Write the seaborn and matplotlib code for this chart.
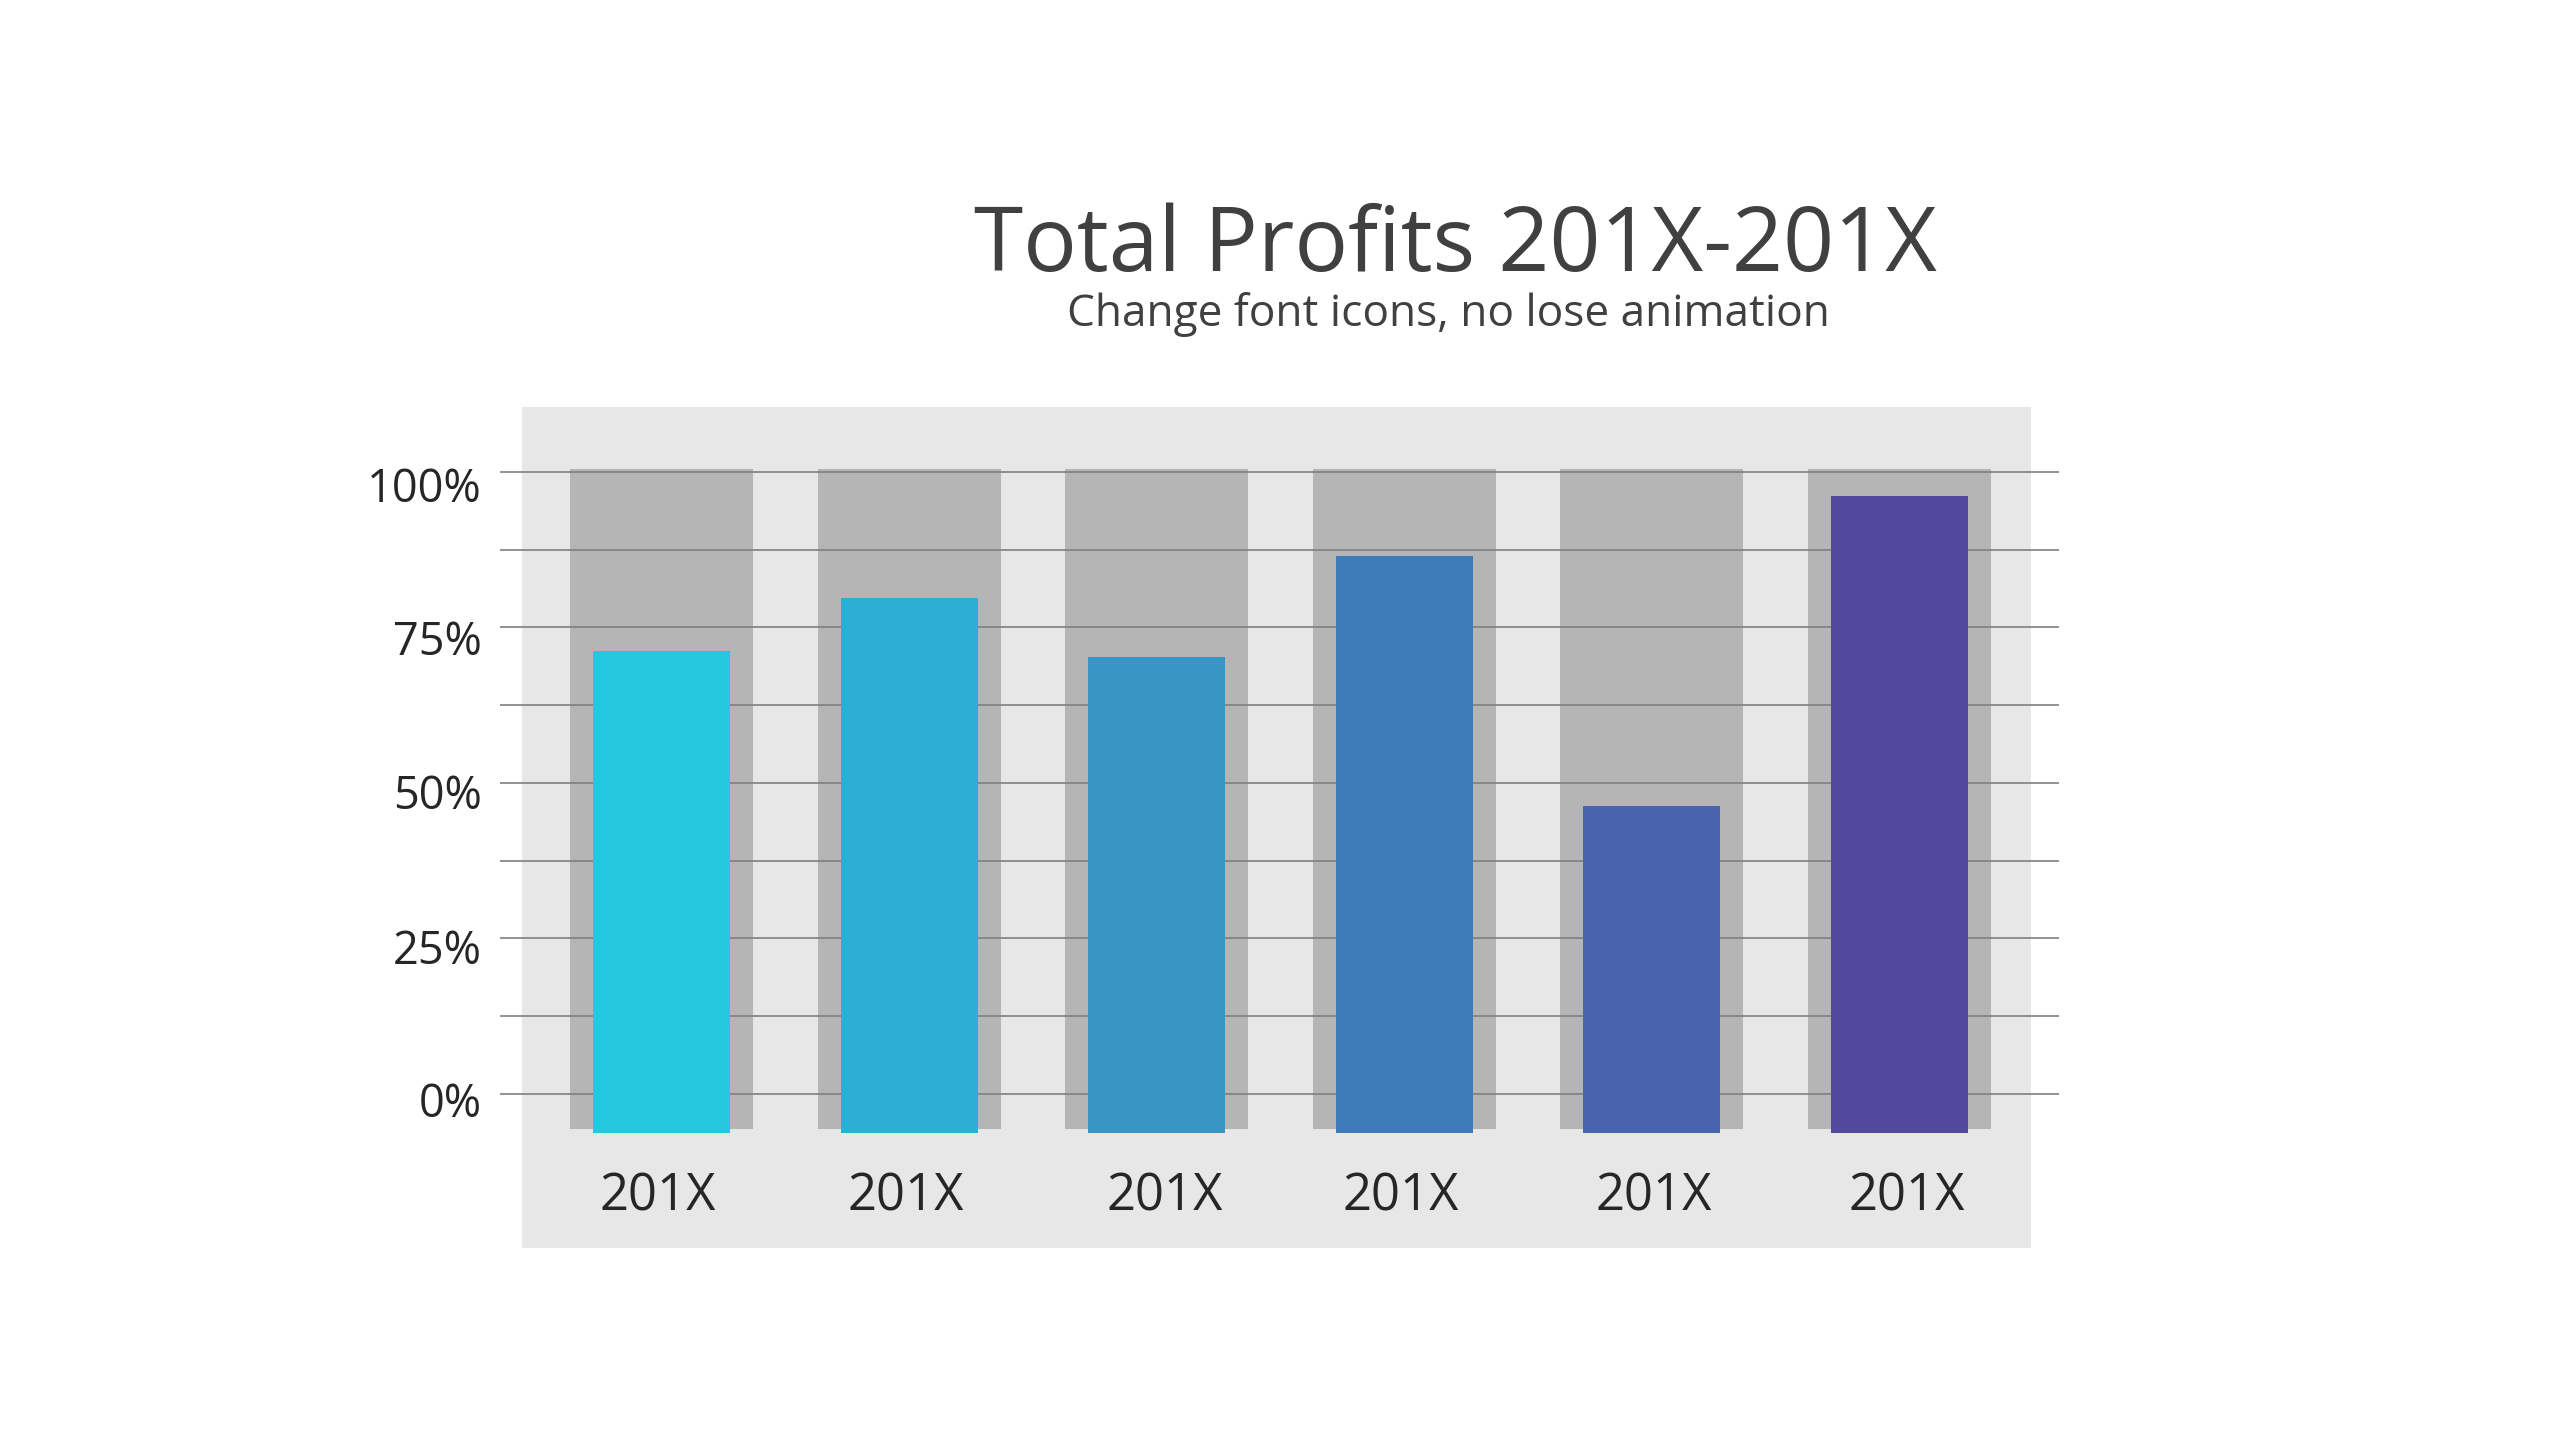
import matplotlib
matplotlib.use("Agg")
import matplotlib.pyplot as plt
import matplotlib.transforms as mtrans
import pandas as pd
import seaborn as sns

# =========================
# DATA
# =========================
slots = [0, 1, 2, 3, 4, 5]
year_labels = ["201X", "201X", "201X", "201X", "201X", "201X"]
profits = [71.3, 79.7, 70.2, 86.5, 46.3, 96.1]
full_scale = [100.5, 100.5, 100.5, 100.5, 100.5, 100.5]
y_ticks = [0, 25, 50, 75, 100]
y_tick_labels = ["0%", "25%", "50%", "75%", "100%"]
grid_levels = [0, 12.5, 25, 37.5, 50, 62.5, 75, 87.5, 100]

bar_colors = ["#25C7DE", "#2DAED3", "#3996C4", "#3F7AB8", "#4763AD", "#52489C"]

# label nudges in pixels, the labels in the slide sit a bit off the ticks
x_nudge = [-4, -3, 8, -4, 2, 7]
y_nudge = [-6, -8, -9, -10, -13]

BASE_BACK = -5.6
BASE_FRONT = -6.3
FONT = "Open Sans"

# =========================
# FIGURE
# =========================
sns.set_theme(style="white")
plt.rcParams["font.family"] = [FONT, "DejaVu Sans"]

fig = plt.figure(figsize=(25.6, 14.4), dpi=100, facecolor="white")
ax = fig.add_axes([522 / 2560, 192 / 1440, 1509 / 2560, 841 / 1440])
ax.set_facecolor("#E7E7E7")

df = pd.DataFrame({"slot": slots, "profit": profits, "full": full_scale})
df["back_h"] = df["full"] - BASE_BACK
df["front_h"] = df["profit"] - BASE_FRONT

# grey background bars
sns.barplot(data=df, x="slot", y="back_h", color="#B5B5B5", width=0.739,
            bottom=BASE_BACK, saturation=1, linewidth=0, zorder=1, ax=ax)

# coloured profit bars
sns.barplot(data=df, x="slot", y="front_h", hue="slot", palette=bar_colors,
            width=0.553, bottom=BASE_FRONT, saturation=1, linewidth=0,
            legend=False, zorder=3, ax=ax)

# horizontal lines run past the panel on both sides
ax.hlines(grid_levels, -22 / 1509, 1 + 28 / 1509, colors="#7F7F7F", linewidth=1.2,
          transform=ax.get_yaxis_transform(), clip_on=False, zorder=2)

ax.set_xlim(-0.5634, 5.531)
ax.set_ylim(-24.76, 110.45)

ax.set_xticks(slots)
ax.set_xticklabels(year_labels)
ax.set_yticks(y_ticks)
ax.set_yticklabels(y_tick_labels)
ax.set_xlabel("")
ax.set_ylabel("")
ax.tick_params(axis="x", length=0, pad=-55, labelsize=36.5, labelcolor="#262626")
ax.tick_params(axis="y", length=0, pad=29, labelsize=32.5, labelcolor="#262626")
ax.xaxis.set_zorder(5)
for side in ax.spines.values():
    side.set_visible(False)

for label, dx in zip(ax.get_xticklabels(), x_nudge):
    label.set_transform(label.get_transform() + mtrans.ScaledTranslation(dx / 100, 0, fig.dpi_scale_trans))
for label, dy in zip(ax.get_yticklabels(), y_nudge):
    label.set_transform(label.get_transform() + mtrans.ScaledTranslation(0, dy / 100, fig.dpi_scale_trans))

# =========================
# TITLES
# =========================
fig.text(1455 / 2560, 1 - 271 / 1440, "Total Profits 201X-201X", ha="center", va="baseline",
         fontsize=64.4, color="#404040")
fig.text(1448 / 2560, 1 - 326 / 1440, "Change font icons, no lose animation", ha="center",
         va="baseline", fontsize=31.9, color="#404040")

fig.savefig("out.png", dpi=100)
